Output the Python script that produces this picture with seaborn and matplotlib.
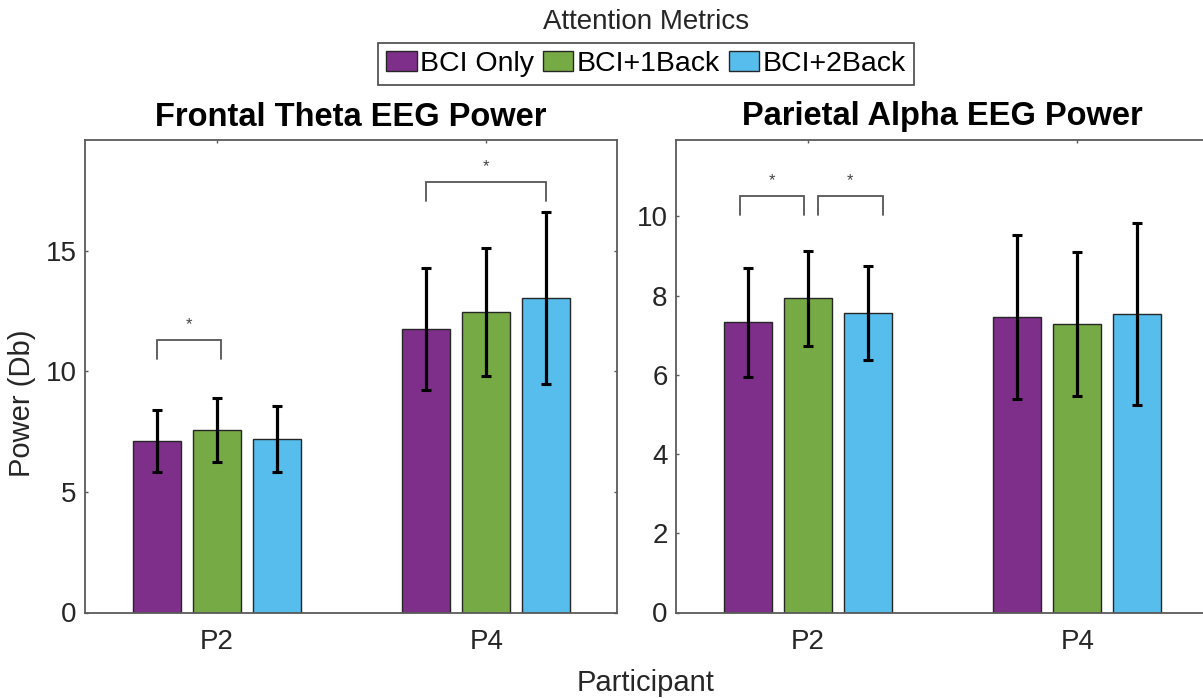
import numpy as np
import pandas as pd
import matplotlib
matplotlib.use("Agg")
import matplotlib.pyplot as plt
from matplotlib.patches import Patch
import seaborn as sns

# ---------------- data ----------------
participants = ["P2", "P4"]
conditions = ["BCI Only", "BCI+1Back", "BCI+2Back"]
colors = ["#7E2F8A", "#76AA44", "#57BDEC"]

theta_bci = [7.12, 11.76]
theta_1back = [7.56, 12.46]
theta_2back = [7.19, 13.05]
theta_err_bci = [1.28, 2.55]
theta_err_1back = [1.33, 2.66]
theta_err_2back = [1.37, 3.57]

alpha_bci = [7.33, 7.46]
alpha_1back = [7.93, 7.28]
alpha_2back = [7.56, 7.54]
alpha_err_bci = [1.38, 2.08]
alpha_err_1back = [1.21, 1.81]
alpha_err_2back = [1.18, 2.30]

# significance brackets: (participant index, condition a, condition b, bracket height)
theta_sig = [(0, 0, 1, 11.31), (1, 0, 2, 17.85)]
alpha_sig = [(0, 0, 1, 10.51), (0, 1, 2, 10.51)]
theta_sig_nudge = [(0.0, 0.014), (0.0, 0.0)]
alpha_sig_nudge = [(-0.03, -0.013), (0.037, 0.057)]

theta_ticks = [0, 5, 10, 15]
alpha_ticks = [0, 2, 4, 6, 8, 10]
theta_ylim = 19.6
alpha_ylim = 11.93

# ---------------- style ----------------
sns.set_theme(style="white")
plt.rcParams["font.family"] = ["Liberation Sans", "DejaVu Sans"]
TXT = "#262626"
SPINE = "#5a5a5a"

W, H = 1203, 698
fig = plt.figure(figsize=(W / 100, H / 100), dpi=100)

ax_left = fig.add_axes([85 / W, (H - 612.5) / H, 532 / W, 472.5 / H])
ax_right = fig.add_axes([676 / W, (H - 612.5) / H, 532 / W, 472.5 / H])


def make_df(a, b, c):
    rows = []
    for cond, vals in zip(conditions, [a, b, c]):
        for p, v in zip(participants, vals):
            rows.append({"Participant": p, "Condition": cond, "Power": v})
    return pd.DataFrame(rows)


def draw_panel(ax, df, errs, sig, nudges, leg_drop, ylim, ticks, title):
    sns.barplot(data=df, x="Participant", y="Power", hue="Condition",
                hue_order=conditions, order=participants, palette=colors,
                width=0.6667, gap=0.2, errorbar=None, saturation=1,
                edgecolor="#262626", linewidth=1.0, legend=False, ax=ax, zorder=2)
    bar_containers = list(ax.containers)
    centers = {}
    for i, cont in enumerate(bar_containers):
        for j, bar in enumerate(cont.patches):
            x = bar.get_x() + bar.get_width() / 2
            y = bar.get_height()
            centers[(j, i)] = x
            ax.errorbar(x, y, yerr=errs[i][j], fmt="none", ecolor="black",
                        elinewidth=2.3, capsize=3.6, capthick=2.2, zorder=4)
    for (g, a, b, yb), (na, nb) in zip(sig, nudges):
        xa = centers[(g, a)] + na
        xb = centers[(g, b)] + nb
        ax.plot([xa, xa, xb, xb], [yb - leg_drop, yb, yb, yb - leg_drop],
                color="#555555", lw=1.3, zorder=5, solid_joinstyle="miter")
        ax.annotate("*", xy=((xa + xb) / 2, yb), xytext=(0, 8),
                    textcoords="offset points", ha="center", va="baseline",
                    fontsize=12, color="#444444")
    ax.set_xlim(-0.489, 1.485)
    ax.set_ylim(0, ylim)
    ax.set_yticks(ticks)
    ax.set_yticklabels([str(t) for t in ticks])
    ax.set_xlabel("")
    ax.set_ylabel("")
    ax.tick_params(axis="both", direction="in", length=2.5, width=1,
                   color=SPINE, labelsize=20, labelcolor=TXT,
                   top=True, right=True, bottom=True, left=True)
    ax.tick_params(axis="x", pad=12)
    ax.tick_params(axis="y", pad=6)
    for s in ax.spines.values():
        s.set_visible(True)
        s.set_color(SPINE)
        s.set_linewidth(1.3)
    ax.text(0.5, 1 + 23 / 472.5, title, transform=ax.transAxes,
            ha="center", va="center", fontsize=23.5, fontweight="bold",
            color="black")


draw_panel(ax_left, make_df(theta_bci, theta_1back, theta_2back),
           [theta_err_bci, theta_err_1back, theta_err_2back],
           theta_sig, theta_sig_nudge, 0.8, theta_ylim, theta_ticks,
           "Frontal Theta EEG Power")
draw_panel(ax_right, make_df(alpha_bci, alpha_1back, alpha_2back),
           [alpha_err_bci, alpha_err_1back, alpha_err_2back],
           alpha_sig, alpha_sig_nudge, 0.48, alpha_ylim, alpha_ticks,
           "Parietal Alpha EEG Power")

# legend
handles = [Patch(facecolor=c, edgecolor="#262626", linewidth=1.0) for c in colors]
leg = fig.legend(handles, conditions, loc="center", ncol=3,
                 bbox_to_anchor=(646 / W, 1 - 64 / H), fontsize=20.5,
                 frameon=True, fancybox=False, framealpha=1,
                 handlelength=1.08, handleheight=0.65, handletextpad=0.12,
                 columnspacing=0.3, borderpad=0.28, borderaxespad=0)
leg.get_frame().set_edgecolor("#555555")
leg.get_frame().set_linewidth(1.3)
for t in leg.get_texts():
    t.set_color("black")

fig.text(646 / W, 1 - 22 / H, "Attention Metrics", ha="center", va="center",
         fontsize=20, color=TXT)
fig.text(646 / W, 1 - 683 / H, "Participant", ha="center", va="center",
         fontsize=21, color=TXT)
fig.text(22 / W, 1 - 403 / H, "Power (Db)", ha="center", va="center",
         rotation=90, fontsize=21, color=TXT)

fig.savefig("out.png", dpi=100)
